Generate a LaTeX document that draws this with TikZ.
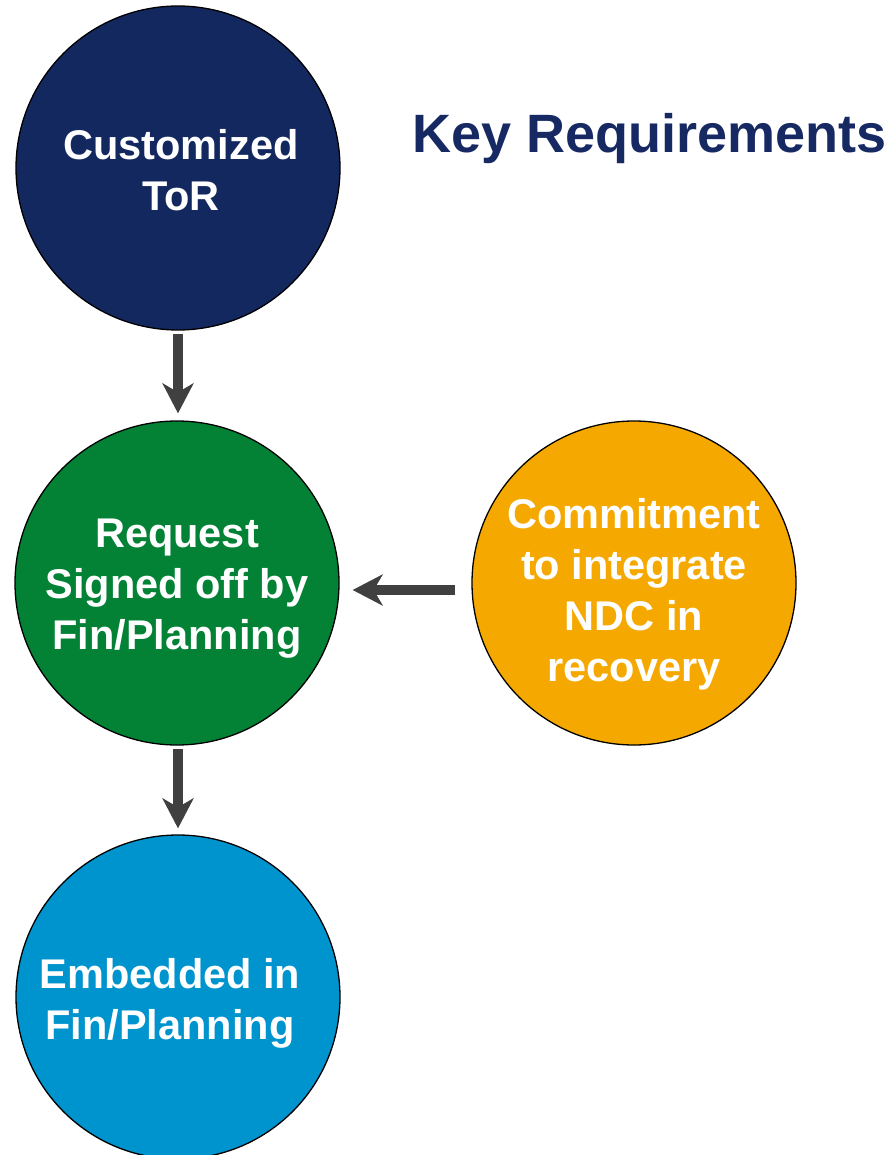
\documentclass[tikz,border=0pt]{standalone}
\usepackage{fontspec}
\setmainfont{Liberation Sans}
\usetikzlibrary{arrows.meta,calc}
\definecolor{navy}{RGB}{20,40,96}
\definecolor{titleblue}{RGB}{22,41,99}
\definecolor{dkgreen}{RGB}{3,130,54}
\definecolor{amber}{RGB}{245,169,0}
\definecolor{skyblue}{RGB}{0,148,206}
\definecolor{arrowgray}{RGB}{64,64,64}
\begin{document}
\begin{tikzpicture}[x=1pt,y=-1pt,
  disc/.style={circle,draw=black,line width=1.3pt,minimum size=324pt,inner sep=0pt},
  disctext/.style={text=white,font=\fontsize{41.5}{51}\selectfont\bfseries,align=center,inner sep=0pt},
  flow/.style={draw=arrowgray,line width=9.5pt,-{Stealth[length=30pt,width=31pt,inset=9pt]}}]
\useasboundingbox (0,0) rectangle (894,1155);
\node[disc,fill=navy] (tor) at (178,168) {};
\node[disc,fill=dkgreen] (req) at (177,583) {};
\node[disc,fill=amber] (com) at (634,583) {};
\node[disc,fill=skyblue] (emb) at (178,997) {};
\node[disctext] (tortext) at (181,170) {Customized\\ToR};
\node[disctext] (reqtext) at (177,589) {Request\\Signed off by\\Fin/Planning};
\node[disctext] (comtext) at (634,594) {Commitment\\to integrate\\NDC in\\recovery};
\node[disctext] (embtext) at (170,1003) {Embedded in\\Fin/Planning};
\node[anchor=base west,inner sep=0pt,text=titleblue,font=\fontsize{54}{60}\selectfont\bfseries] (title) at (412,153) {Key Requirements};
\draw[flow,shorten <=3pt,shorten >=7pt] (tor.south) -- (tor.south |- req.north);
\draw[flow,shorten <=3pt,shorten >=6pt] (req.south -| emb.north) -- (emb.north);
\coordinate (cw) at ($(com.west)+(0,7)$);
\coordinate (re) at ($(req.east)+(0,7)$);
\draw[flow,shorten <=16pt,shorten >=13pt] (cw) -- (re);
\end{tikzpicture}
\end{document}
